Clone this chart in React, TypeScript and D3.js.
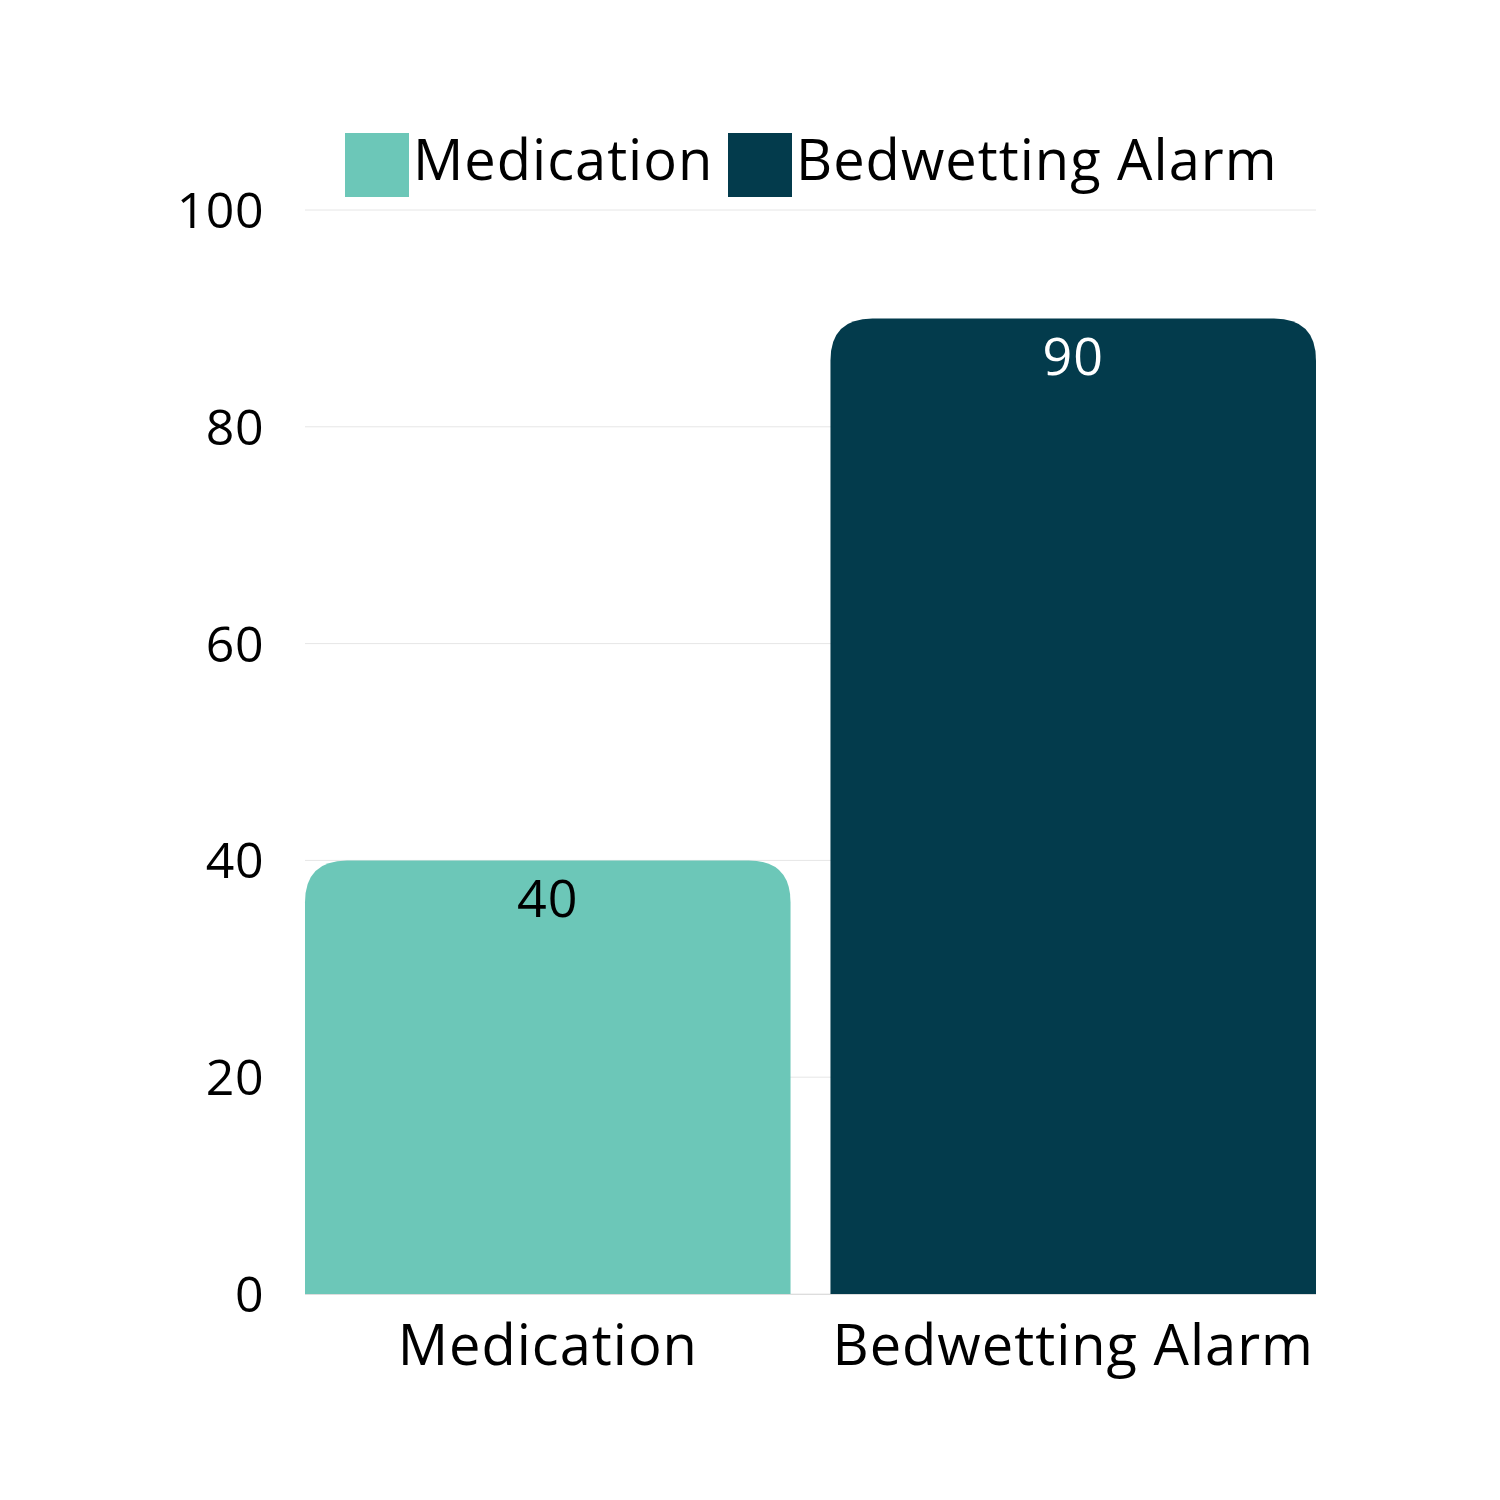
import React, { useEffect, useRef } from 'react';
import * as d3 from 'd3';

// chart data
const categories = ['Medication', 'Bedwetting Alarm'];
const values = [40, 90];
const barColors = ['#6cc7b8', '#033b4c'];
const labelColors = ['#000000', '#ffffff'];
const yTicks = [0, 20, 40, 60, 80, 100];

const WIDTH = 1500;
const HEIGHT = 1500;
const MARGIN = { top: 210, right: 184, bottom: 206, left: 305 };
const FONT = '"Open Sans", "Noto Sans", sans-serif';

const App: React.FC = () => {
  const svgRef = useRef<SVGSVGElement>(null);

  useEffect(() => {
    if (!svgRef.current) return;
    const svg = d3.select(svgRef.current);
    svg.selectAll('*').remove();

    const chartWidth = WIDTH - MARGIN.left - MARGIN.right;
    const chartHeight = HEIGHT - MARGIN.top - MARGIN.bottom;

    const g = svg.append('g').attr('transform', `translate(${MARGIN.left},${MARGIN.top})`);

    const xScale = d3.scaleBand<string>()
      .domain(categories)
      .range([0, chartWidth])
      .paddingInner(0.076)
      .paddingOuter(0);

    const yScale = d3.scaleLinear()
      .domain([0, 100])
      .range([chartHeight, 0]);

    // gridlines
    g.selectAll('.grid')
      .data(yTicks)
      .enter()
      .append('line')
      .attr('class', 'grid')
      .attr('x1', 0)
      .attr('x2', chartWidth)
      .attr('y1', d => yScale(d))
      .attr('y2', d => yScale(d))
      .attr('stroke', '#e6e6e6')
      .attr('stroke-width', 1);

    // y tick labels
    g.selectAll('.ytick')
      .data(yTicks)
      .enter()
      .append('text')
      .attr('class', 'ytick')
      .attr('x', -41)
      .attr('y', d => yScale(d))
      .attr('dy', '0.36em')
      .attr('text-anchor', 'end')
      .style('font-family', FONT)
      .style('font-size', '50px')
      .style('letter-spacing', '0.5px')
      .style('fill', '#000')
      .text(d => d);

    // bars with rounded top corners
    const r = 42;
    const barPath = (x: number, y: number, w: number, h: number) => {
      const rr = Math.min(r, w / 2, h);
      return `M${x},${y + h}V${y + rr}Q${x},${y} ${x + rr},${y}H${x + w - rr}Q${x + w},${y} ${x + w},${y + rr}V${y + h}Z`;
    };

    const data = categories.map((c, i) => ({ c, v: values[i], i }));

    g.selectAll('.bar')
      .data(data)
      .enter()
      .append('path')
      .attr('class', 'bar')
      .attr('d', d => barPath(xScale(d.c)!, yScale(d.v), xScale.bandwidth(), chartHeight - yScale(d.v)))
      .attr('fill', d => barColors[d.i]);

    // value labels
    g.selectAll('.vlabel')
      .data(data)
      .enter()
      .append('text')
      .attr('class', 'vlabel')
      .attr('x', d => xScale(d.c)! + xScale.bandwidth() / 2)
      .attr('y', d => yScale(d.v) + 57)
      .attr('text-anchor', 'middle')
      .style('font-family', FONT)
      .style('font-size', '52px')
      .style('letter-spacing', '1px')
      .style('fill', d => labelColors[d.i])
      .text(d => d.v);

    // baseline
    g.append('line')
      .attr('x1', 0)
      .attr('x2', chartWidth)
      .attr('y1', chartHeight + 0.5)
      .attr('y2', chartHeight + 0.5)
      .attr('stroke', '#dddddd');

    // x category labels
    g.selectAll('.xlabel')
      .data(categories)
      .enter()
      .append('text')
      .attr('class', 'xlabel')
      .attr('x', d => xScale(d)! + xScale.bandwidth() / 2)
      .attr('y', chartHeight + 71)
      .attr('text-anchor', 'middle')
      .style('font-family', FONT)
      .style('font-size', '56px')
      .style('letter-spacing', '1px')
      .style('fill', '#000')
      .text(d => d);

    // legend
    const legendX = [345, 728];
    const legend = svg.selectAll('.legend')
      .data(categories)
      .enter()
      .append('g')
      .attr('class', 'legend')
      .attr('transform', (d, i) => `translate(${legendX[i]},133)`);

    legend.append('rect')
      .attr('width', 64)
      .attr('height', 64)
      .attr('fill', (d, i) => barColors[i]);

    legend.append('text')
      .attr('x', 68)
      .attr('y', 47)
      .style('font-family', FONT)
      .style('font-size', '56px')
      .style('letter-spacing', '1px')
      .style('fill', '#000')
      .text(d => d);
  }, []);

  return <svg ref={svgRef} width={WIDTH} height={HEIGHT} style={{ display: 'block', margin: -8, background: '#fff' }}></svg>;
};

export default App;
